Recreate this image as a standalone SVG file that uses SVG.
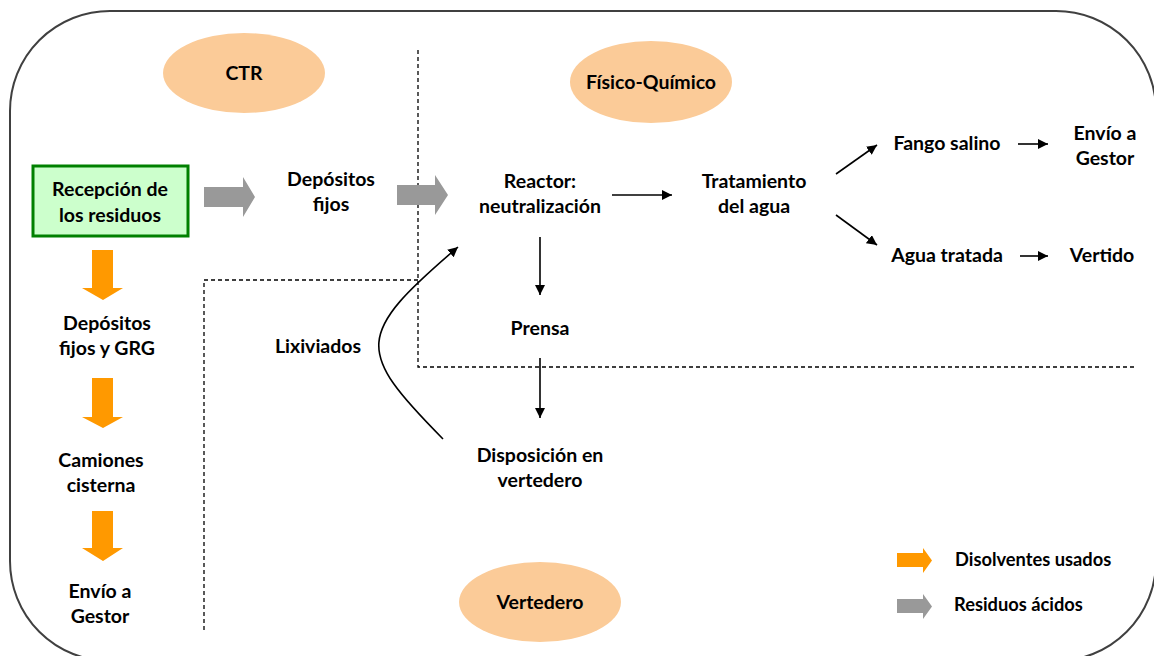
<svg xmlns="http://www.w3.org/2000/svg" width="1154" height="656" viewBox="0 0 1154 656">
<style>
text{font-family:Lato,"Open Sans","Liberation Sans",sans-serif;font-weight:bold;font-size:19.5px;fill:#000;text-anchor:middle}
.lg{font-size:18.3px;text-anchor:start}
.ell{fill:#FBCB98;stroke:none}
.dash{fill:none;stroke:#000;stroke-width:1.3;stroke-dasharray:4 3}
.ln{fill:none;stroke:#000;stroke-width:1.6}
.org{fill:#FF9900}
.gry{fill:#999999}
</style>
<defs>
<marker id="ah" viewBox="0 0 10 10" refX="10" refY="5" markerWidth="10" markerHeight="10" markerUnits="userSpaceOnUse" orient="auto">
<path d="M0,0 L10,5 L0,10 z" fill="#000"/>
</marker>
</defs>
<rect x="10" y="11" width="1146" height="650" rx="100" ry="100" fill="none" stroke="#404040" stroke-width="2"/>
<g id="boundaries">
<path class="dash" d="M418,50 V367 H1134"/>
<path class="dash" d="M418,280 H204 V630"/>
</g>
<g id="ctr"><ellipse class="ell" cx="244" cy="73" rx="81" ry="40"/><text x="244" y="80">CTR</text></g>
<g id="fisico"><ellipse class="ell" cx="651" cy="82" rx="81" ry="41"/><text x="651" y="89">Físico-Químico</text></g>
<g id="vertedero"><ellipse class="ell" cx="540" cy="602" rx="81" ry="40"/><text x="540" y="609">Vertedero</text></g>
<g id="recepcion"><rect x="33" y="166" width="155" height="70" fill="#CCFFCC" stroke="#008000" stroke-width="3"/><text x="110" y="196">Recepción de</text><text x="110" y="222">los residuos</text></g>
<g id="depositos"><text x="331" y="186">Depósitos</text><text x="331" y="211">fijos</text></g>
<g id="reactor"><text x="540" y="188">Reactor:</text><text x="540" y="213">neutralización</text></g>
<g id="tratamiento"><text x="754" y="188">Tratamiento</text><text x="754" y="213">del agua</text></g>
<g id="prensa"><text x="540" y="335">Prensa</text></g>
<g id="disposicion"><text x="540" y="462">Disposición en</text><text x="540" y="487">vertedero</text></g>
<g id="lixiviados"><text x="318" y="353">Lixiviados</text></g>
<g id="fango"><text x="947" y="150">Fango salino</text></g>
<g id="envio1"><text x="1105" y="140">Envío a</text><text x="1105" y="165">Gestor</text></g>
<g id="agua"><text x="947" y="262">Agua tratada</text></g>
<g id="vertido"><text x="1102" y="262">Vertido</text></g>
<g id="depgrg"><text x="107" y="330">Depósitos</text><text x="107" y="355">fijos y GRG</text></g>
<g id="camiones"><text x="101" y="467">Camiones</text><text x="101" y="492">cisterna</text></g>
<g id="envio2"><text x="100" y="598">Envío a</text><text x="100" y="623">Gestor</text></g>
<g id="legend">
<path class="org" d="M897,553 H923 V548 L932,560.5 L923,573 V567 H897 z"/>
<text class="lg" x="955" y="566">Disolventes usados</text>
<path class="gry" d="M897,599 H923 V594 L932,606.5 L923,619 V613 H897 z"/>
<text class="lg" x="954" y="611">Residuos ácidos</text>
</g>
<g id="connectors">
<path class="gry" d="M204,187 H243 V177 L255,197 L243,217 V207 H204 z"/>
<path class="gry" d="M397,185 H435 V175 L448,195 L435,215 V205 H397 z"/>
<path class="org" d="M92,250 H113 V288 H123 L103,300 L82,288 H92 z"/>
<path class="org" d="M92,378 H113 V417 H123 L103,428 L82,417 H92 z"/>
<path class="org" d="M92,511 H113 V548 H123 L103,561 L82,548 H92 z"/>
<path class="ln" marker-end="url(#ah)" d="M612,195 H672"/>
<path class="ln" marker-end="url(#ah)" d="M540,237 V295"/>
<path class="ln" marker-end="url(#ah)" d="M540,358 V418"/>
<path class="ln" marker-end="url(#ah)" d="M443,439 C355,350 355,335 458,247"/>
<path class="ln" marker-end="url(#ah)" d="M836,174 L877,145"/>
<path class="ln" marker-end="url(#ah)" d="M836,215 L877,245"/>
<path class="ln" marker-end="url(#ah)" d="M1018,144 H1048"/>
<path class="ln" marker-end="url(#ah)" d="M1020,256 H1048"/>
</g>
</svg>
